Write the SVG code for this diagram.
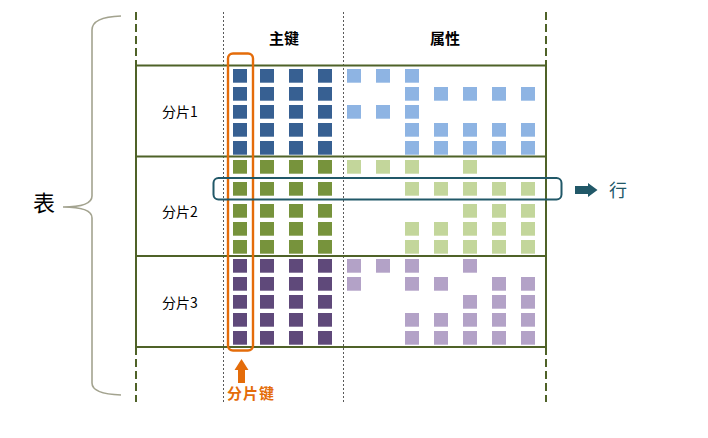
<svg xmlns="http://www.w3.org/2000/svg" width="708" height="438" viewBox="0 0 708 438">
<defs>
<style>
.txt{font-family:"Liberation Sans","Noto Sans CJK SC",sans-serif;fill:#000}
.cjk{font-family:"Noto Sans CJK SC","Liberation Sans",sans-serif}
.hdr{font-size:15px;font-weight:bold;text-anchor:middle}
.lbl{font-size:14px}
.tline{stroke:#4F6228;stroke-width:2;fill:none}
.dash{stroke:#4F6228;stroke-width:2;stroke-dasharray:8,4;fill:none}
.dot{stroke:#595959;stroke-width:1;stroke-dasharray:2,2;fill:none}
.sq{width:14px;height:13.7px}
.b1{fill:#376092}.b2{fill:#8EB4E3}
.g1{fill:#77933C}.g2{fill:#C3D69B}
.p1{fill:#5F497A}.p2{fill:#B3A2C7}
</style>
<rect id="s" width="14" height="13.7"/>
</defs>
<rect width="708" height="438" fill="#fff"/>

<!-- brace -->
<g id="brace">
<path d="M121,16 Q92,17 92,30 L92,196 Q92,207 63,207 Q92,207 92,218 L92,383 Q92,394 121,395" fill="none" stroke="#A3A38F" stroke-width="1.6"/>
<text class="cjk" x="33" y="211" font-size="22" fill="#000">表</text>
</g>

<!-- table frame -->
<g id="table">
<line class="dot" x1="223.5" y1="12" x2="223.5" y2="402"/>
<line class="dot" x1="343.5" y1="12" x2="343.5" y2="402"/>
<line class="dash" x1="136" y1="12" x2="136" y2="65"/>
<line class="dash" x1="546" y1="12" x2="546" y2="65"/>
<line class="dash" x1="136" y1="347" x2="136" y2="402"/>
<line class="dash" x1="546" y1="347" x2="546" y2="402"/>
<line class="tline" x1="136" y1="64" x2="136" y2="348"/>
<line class="tline" x1="546" y1="64" x2="546" y2="348"/>
<line class="tline" x1="136" y1="65.5" x2="546" y2="65.5"/>
<line class="tline" x1="136" y1="156.5" x2="546" y2="156.5"/>
<line class="tline" x1="136" y1="256" x2="546" y2="256"/>
<line class="tline" x1="136" y1="347" x2="546" y2="347"/>
<text class="cjk hdr" x="284" y="44">主键</text>
<text class="cjk hdr" x="445" y="44">属性</text>
</g>

<!-- shard 1 -->
<g id="shard1">
<text class="cjk lbl" x="162" y="117">分片1</text>
<g class="b1">
<use href="#s" x="233" y="69"/><use href="#s" x="260" y="69"/><use href="#s" x="289" y="69"/><use href="#s" x="318" y="69"/>
<use href="#s" x="233" y="87"/><use href="#s" x="260" y="87"/><use href="#s" x="289" y="87"/><use href="#s" x="318" y="87"/>
<use href="#s" x="233" y="105"/><use href="#s" x="260" y="105"/><use href="#s" x="289" y="105"/><use href="#s" x="318" y="105"/>
<use href="#s" x="233" y="123"/><use href="#s" x="260" y="123"/><use href="#s" x="289" y="123"/><use href="#s" x="318" y="123"/>
<use href="#s" x="233" y="141"/><use href="#s" x="260" y="141"/><use href="#s" x="289" y="141"/><use href="#s" x="318" y="141"/>
</g>
<g class="b2">
<use href="#s" x="347" y="69"/><use href="#s" x="376" y="69"/><use href="#s" x="405" y="69"/>
<use href="#s" x="405" y="87"/><use href="#s" x="434" y="87"/><use href="#s" x="463" y="87"/><use href="#s" x="492" y="87"/><use href="#s" x="521" y="87"/>
<use href="#s" x="347" y="105"/><use href="#s" x="376" y="105"/><use href="#s" x="405" y="105"/>
<use href="#s" x="405" y="123"/><use href="#s" x="434" y="123"/><use href="#s" x="463" y="123"/><use href="#s" x="492" y="123"/><use href="#s" x="521" y="123"/>
<use href="#s" x="405" y="141"/><use href="#s" x="434" y="141"/><use href="#s" x="463" y="141"/><use href="#s" x="492" y="141"/><use href="#s" x="521" y="141"/>
</g>
</g>

<!-- shard 2 -->
<g id="shard2">
<text class="cjk lbl" x="162" y="217">分片2</text>
<g class="g1">
<use href="#s" x="233" y="160"/><use href="#s" x="260" y="160"/><use href="#s" x="289" y="160"/><use href="#s" x="318" y="160"/>
<use href="#s" x="233" y="182"/><use href="#s" x="260" y="182"/><use href="#s" x="289" y="182"/><use href="#s" x="318" y="182"/>
<use href="#s" x="233" y="204"/><use href="#s" x="260" y="204"/><use href="#s" x="289" y="204"/><use href="#s" x="318" y="204"/>
<use href="#s" x="233" y="222"/><use href="#s" x="260" y="222"/><use href="#s" x="289" y="222"/><use href="#s" x="318" y="222"/>
<use href="#s" x="233" y="240"/><use href="#s" x="260" y="240"/><use href="#s" x="289" y="240"/><use href="#s" x="318" y="240"/>
</g>
<g class="g2">
<use href="#s" x="347" y="160"/><use href="#s" x="376" y="160"/><use href="#s" x="405" y="160"/><use href="#s" x="463" y="160"/>
<use href="#s" x="405" y="182"/><use href="#s" x="434" y="182"/><use href="#s" x="463" y="182"/><use href="#s" x="492" y="182"/><use href="#s" x="521" y="182"/>
<use href="#s" x="463" y="204"/><use href="#s" x="492" y="204"/><use href="#s" x="521" y="204"/>
<use href="#s" x="405" y="222"/><use href="#s" x="434" y="222"/><use href="#s" x="463" y="222"/><use href="#s" x="492" y="222"/><use href="#s" x="521" y="222"/>
<use href="#s" x="405" y="240"/><use href="#s" x="434" y="240"/><use href="#s" x="463" y="240"/><use href="#s" x="492" y="240"/><use href="#s" x="521" y="240"/>
</g>
</g>

<!-- shard 3 -->
<g id="shard3">
<text class="cjk lbl" x="162" y="308">分片3</text>
<g class="p1">
<use href="#s" x="233" y="259"/><use href="#s" x="260" y="259"/><use href="#s" x="289" y="259"/><use href="#s" x="318" y="259"/>
<use href="#s" x="233" y="277"/><use href="#s" x="260" y="277"/><use href="#s" x="289" y="277"/><use href="#s" x="318" y="277"/>
<use href="#s" x="233" y="295"/><use href="#s" x="260" y="295"/><use href="#s" x="289" y="295"/><use href="#s" x="318" y="295"/>
<use href="#s" x="233" y="313"/><use href="#s" x="260" y="313"/><use href="#s" x="289" y="313"/><use href="#s" x="318" y="313"/>
<use href="#s" x="233" y="331"/><use href="#s" x="260" y="331"/><use href="#s" x="289" y="331"/><use href="#s" x="318" y="331"/>
</g>
<g class="p2">
<use href="#s" x="347" y="259"/><use href="#s" x="376" y="259"/><use href="#s" x="405" y="259"/><use href="#s" x="463" y="259"/>
<use href="#s" x="347" y="277"/><use href="#s" x="405" y="277"/><use href="#s" x="434" y="277"/><use href="#s" x="492" y="277"/><use href="#s" x="521" y="277"/>
<use href="#s" x="463" y="295"/><use href="#s" x="492" y="295"/><use href="#s" x="521" y="295"/>
<use href="#s" x="405" y="313"/><use href="#s" x="434" y="313"/><use href="#s" x="463" y="313"/><use href="#s" x="492" y="313"/><use href="#s" x="521" y="313"/>
<use href="#s" x="405" y="331"/><use href="#s" x="434" y="331"/><use href="#s" x="463" y="331"/><use href="#s" x="492" y="331"/><use href="#s" x="521" y="331"/>
</g>
</g>

<!-- shard key highlight -->
<g id="shardkey">
<rect x="228" y="53.5" width="25" height="297" rx="5" fill="none" stroke="#E46C0A" stroke-width="2.4"/>
<polygon points="238,383 245,383 245,370 248.5,370 241.5,359 234.5,370 238,370" fill="#E46C0A"/>
<text class="cjk" x="227" y="399" font-size="15" font-weight="bold" fill="#E46C0A" letter-spacing="1">分片键</text>
</g>

<!-- row highlight -->
<g id="row">
<rect x="213.5" y="178" width="348" height="21.5" rx="5" fill="none" stroke="#215868" stroke-width="2"/>
<polygon points="575,186 588,186 588,183 597.5,190 588,197 588,194 575,194" fill="#215868"/>
<text class="cjk" x="609" y="197" font-size="18" fill="#215868">行</text>
</g>
</svg>
